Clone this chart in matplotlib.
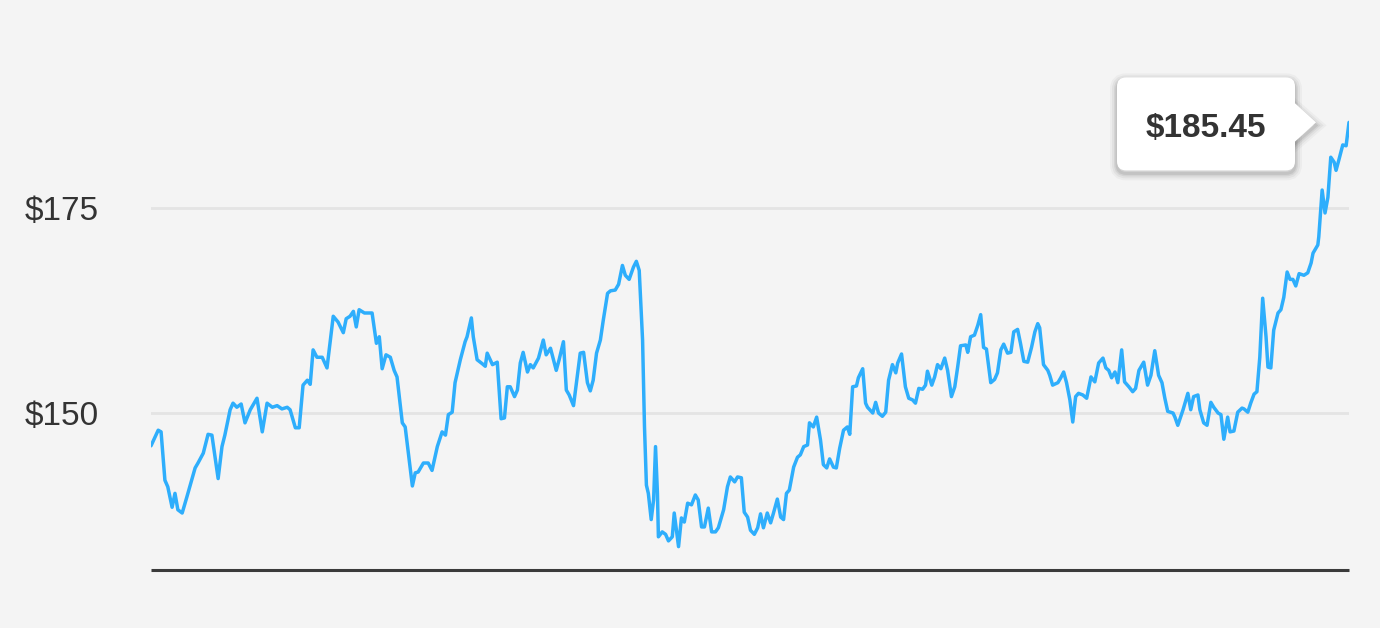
import matplotlib.pyplot as plt
from matplotlib.patches import FancyBboxPatch, Polygon
from matplotlib.transforms import IdentityTransform

# trading day index and closing price
days = [0.0, 1.5, 2.1, 2.9, 3.5, 4.4, 5.0, 5.6, 6.5, 7.5, 9.2, 9.8, 10.9, 11.9, 12.7,
        14.0, 14.8, 15.4, 16.5, 17.1, 17.9, 18.8, 19.6, 20.7, 22.1, 23.2, 24.2, 25.3,
        26.3, 27.3, 28.4, 29.0, 30.1, 30.9, 31.7, 32.6, 33.2, 33.8, 34.6, 35.7, 36.7,
        38.0, 39.0, 40.1, 40.7, 41.5, 42.2, 42.8, 43.4, 44.5, 45.3, 46.1, 47.0, 47.6,
        48.2, 49.0, 49.9, 50.7, 51.3, 52.4, 53.0, 54.5, 55.1, 55.7, 56.8, 57.8, 58.6,
        59.7, 60.7, 61.4, 62.0, 62.8, 63.4, 64.5, 65.5, 65.9, 66.8, 67.2, 68.0, 69.1,
        69.7, 70.1, 71.2, 72.2, 73.0, 73.7, 74.3, 74.9, 75.8, 76.4, 77.0, 77.6, 78.5,
        79.1, 79.7, 80.8, 81.8, 82.4, 83.3, 84.5, 85.1, 86.0, 86.6, 87.2, 88.1, 88.9,
        89.5, 90.2, 91.0, 91.6, 92.2, 92.9, 93.7, 94.3, 95.2, 95.8, 96.8, 97.5, 98.3,
        98.9, 99.7, 100.6, 101.2, 101.8, 102.5, 102.9, 103.3, 103.7, 104.3, 104.8,
        105.2, 105.6, 105.8, 106.6, 107.3, 107.9, 108.7, 109.1, 110.0, 110.6, 111.2,
        111.9, 112.7, 113.5, 114.1, 114.8, 115.4, 116.2, 116.9, 117.7, 118.3, 119.4,
        120.2, 120.8, 121.7, 122.3, 123.1, 123.7, 124.4, 125.0, 125.8, 126.5, 127.1,
        127.7, 128.5, 129.2, 129.8, 130.6, 131.3, 131.9, 132.5, 133.1, 134.0, 134.8,
        135.4, 136.1, 136.9, 137.3, 138.1, 138.8, 139.6, 140.2, 140.9, 141.5, 142.3,
        142.9, 143.6, 144.4, 145.2, 145.7, 146.3, 147.1, 147.5, 148.4, 149.0, 149.4,
        150.5, 151.1, 151.7, 152.5, 153.2, 153.8, 154.6, 155.3, 155.7, 156.5, 157.3,
        158.0, 158.8, 159.4, 160.1, 160.9, 161.5, 161.9, 162.8, 163.4, 164.0, 164.7,
        165.5, 166.1, 166.9, 167.6, 168.2, 168.8, 169.9, 170.3, 170.9, 171.7, 172.4,
        173.0, 173.6, 174.2, 175.1, 175.9, 176.5, 177.2, 177.8, 178.6, 179.3, 179.9,
        180.7, 181.3, 182.0, 182.8, 183.6, 184.3, 184.9, 185.3, 186.1, 187.0, 187.4,
        188.0, 189.1, 189.7, 190.3, 190.9, 191.6, 192.2, 192.8, 193.4, 194.3, 195.1,
        196.0, 196.8, 197.6, 198.5, 199.1, 199.7, 200.3, 201.0, 201.6, 202.4, 203.0,
        203.9, 204.7, 205.3, 206.0, 207.0, 207.8, 208.5, 209.3, 210.1, 210.8, 211.4,
        212.0, 213.1, 213.5, 214.1, 215.2, 216.2, 216.8, 217.4, 218.3, 218.7, 219.5,
        220.2, 221.0, 221.6, 222.5, 223.1, 223.7, 224.5, 225.0, 225.8, 226.6, 227.5,
        227.9, 228.7, 229.3, 230.0, 230.6, 231.2, 231.8, 232.5, 232.9, 233.5, 234.1,
        235.0, 235.6, 236.2, 236.9, 237.5, 238.1, 238.7, 239.4, 240.4, 241.2, 241.9,
        242.3, 243.3, 243.5, 244.2, 244.8, 245.4, 246.0, 246.7, 247.1, 247.7, 248.5,
        249.2, 249.8]

prices = [146.0, 147.9, 147.7, 141.8, 141.0, 138.5, 140.2, 138.2, 137.8, 139.8, 143.3,
          143.9, 145.1, 147.4, 147.3, 142.0, 145.9, 147.3, 150.4, 151.2, 150.7, 151.1,
          148.8, 150.4, 151.8, 147.7, 151.2, 150.7, 150.9, 150.5, 150.7, 150.4, 148.2,
          148.2, 153.4, 154.0, 153.5, 157.7, 156.8, 156.8, 155.5, 161.8, 161.1, 159.8,
          161.5, 161.8, 162.4, 160.5, 162.6, 162.2, 162.2, 162.2, 158.5, 159.3, 155.4,
          157.1, 156.8, 155.2, 154.4, 148.8, 148.3, 141.1, 142.7, 142.8, 143.9, 143.9,
          143.0, 145.9, 147.7, 147.3, 149.8, 150.1, 153.7, 156.5, 158.7, 159.3, 161.6,
          159.3, 156.5, 156.0, 155.7, 157.3, 155.9, 156.2, 149.3, 149.4, 153.2, 153.2,
          152.0, 152.8, 156.1, 157.4, 155.0, 155.9, 155.5, 156.7, 158.9, 157.1, 157.9,
          155.2, 156.5, 158.7, 152.8, 152.2, 150.9, 154.6, 157.3, 157.4, 153.7, 152.7,
          154.0, 157.3, 158.9, 161.3, 164.6, 164.9, 165.0, 165.7, 168.0, 166.8, 166.3,
          167.8, 168.5, 167.4, 158.9, 148.3, 141.2, 140.2, 137.0, 139.4, 145.9, 140.2,
          134.9, 135.5, 135.2, 134.4, 134.9, 137.8, 133.7, 137.2, 136.7, 139.0, 138.8,
          140.0, 139.4, 136.1, 136.1, 138.4, 135.5, 135.5, 136.0, 138.2, 141.0, 142.2,
          141.6, 142.2, 142.1, 137.9, 137.3, 135.7, 135.2, 136.0, 137.7, 136.0, 137.8,
          136.6, 137.8, 139.5, 137.3, 137.0, 140.2, 140.6, 143.4, 144.6, 144.9, 145.9,
          146.1, 148.8, 148.3, 149.5, 146.7, 143.7, 143.3, 144.4, 143.4, 143.3, 145.7,
          147.9, 148.3, 147.4, 153.2, 153.3, 154.3, 155.4, 151.2, 150.7, 150.0, 151.3,
          150.0, 149.6, 150.1, 154.0, 155.9, 154.9, 156.1, 157.2, 153.2, 151.8, 151.6,
          151.2, 153.0, 152.9, 153.4, 155.1, 153.4, 154.4, 155.9, 155.4, 156.7, 155.2,
          152.0, 153.2, 155.6, 158.2, 158.3, 157.4, 159.3, 159.5, 160.7, 162.0, 158.0,
          157.8, 153.7, 154.1, 154.9, 157.7, 158.4, 157.3, 157.4, 159.9, 160.2, 158.5,
          156.3, 156.2, 158.0, 159.9, 160.9, 160.4, 155.9, 155.2, 154.6, 153.4, 153.7,
          154.3, 155.0, 153.7, 151.6, 148.9, 152.0, 152.4, 152.2, 151.8, 154.4, 153.8,
          156.1, 156.7, 155.5, 155.2, 154.3, 155.0, 153.7, 157.7, 153.8, 153.2, 152.6,
          153.0, 155.2, 156.2, 153.4, 154.6, 157.6, 154.6, 153.7, 151.8, 150.2, 150.0,
          149.5, 148.5, 150.4, 152.4, 150.4, 152.0, 152.2, 150.4, 148.8, 148.5, 151.3,
          150.7, 150.0, 149.8, 146.8, 149.5, 147.7, 147.8, 150.1, 150.6, 150.5, 150.1,
          151.2, 152.3, 152.6, 156.8, 164.0, 159.3, 155.6, 155.5, 160.1, 162.2, 162.6,
          164.1, 167.2, 166.3, 166.3, 165.5, 167.0, 166.8, 167.1, 168.3, 169.5, 170.5,
          171.5, 177.2, 174.4, 176.3, 181.2, 180.6, 179.6, 180.9, 182.7, 182.6, 185.45]

grid_values = [150, 175]
tick_labels = ["$150", "$175"]

bg = "#f4f4f4"
line_color = "#2eaefc"
text_color = "#333333"

plt.rcParams['font.family'] = ['Liberation Sans', 'DejaVu Sans']

fig = plt.figure(figsize=(13.8, 6.28), dpi=100)
fig.patch.set_facecolor(bg)
ax = fig.add_axes([151 / 1380, 58 / 628, 1198 / 1380, 530 / 628])
ax.set_facecolor(bg)

ax.plot(days, prices, color=line_color, lw=2.5, solid_joinstyle='round',
        solid_capstyle='round', zorder=3)

ax.set_xlim(days[0], days[-1])
ax.set_ylim(130.85, 195.5)

for v in grid_values:
    ax.axhline(v, color="#e4e4e4", lw=2, zorder=1)

ax.set_yticks(grid_values)
ax.set_yticklabels(tick_labels, fontsize=24, color=text_color)
for lab in ax.get_yticklabels():
    lab.set_horizontalalignment('left')
ax.tick_params(axis='y', length=0, pad=126 * 0.72)
ax.set_xticks([])

for side in ['top', 'left', 'right']:
    ax.spines[side].set_visible(False)
ax.spines['bottom'].set_color("#3a3a3a")
ax.spines['bottom'].set_linewidth(2.2)
ax.spines['bottom'].set_capstyle('butt')
ax.spines['bottom'].set_zorder(4)

# tooltip for the latest close
px, py = ax.transData.transform((days[-1], prices[-1]))
box_l, box_b, box_w, box_h = px - 232, py - 48, 178, 93

for i, w in enumerate([14, 10, 6, 3]):
    shadow = FancyBboxPatch((box_l, box_b - 3), box_w, box_h,
                            boxstyle="round,pad=0,rounding_size=9",
                            fc="none", ec="black", lw=w * 0.72, alpha=0.03 + 0.015 * i,
                            transform=IdentityTransform(), zorder=5)
    fig.add_artist(shadow)
    tri_sh = Polygon([(box_l + box_w - 2, py + 20 - 3), (px - 33, py - 3),
                      (box_l + box_w - 2, py - 20 - 3)], closed=True,
                     fc="none", ec="black", lw=w * 0.72, alpha=0.03 + 0.015 * i,
                     transform=IdentityTransform(), zorder=5)
    fig.add_artist(tri_sh)

box = FancyBboxPatch((box_l, box_b), box_w, box_h,
                     boxstyle="round,pad=0,rounding_size=9",
                     fc="white", ec="none", transform=IdentityTransform(), zorder=6)
fig.add_artist(box)
tri = Polygon([(box_l + box_w - 2, py + 21), (px - 33, py), (box_l + box_w - 2, py - 21)],
              closed=True, fc="white", ec="none", transform=IdentityTransform(), zorder=6)
fig.add_artist(tri)

fig.text((px - 143) / 1380, (py - 6) / 628, "$" + format(prices[-1], ".2f"),
         ha='center', va='center', fontsize=24, fontweight='bold', color=text_color,
         zorder=7)

fig.savefig("out.png", dpi=100, facecolor=bg)
